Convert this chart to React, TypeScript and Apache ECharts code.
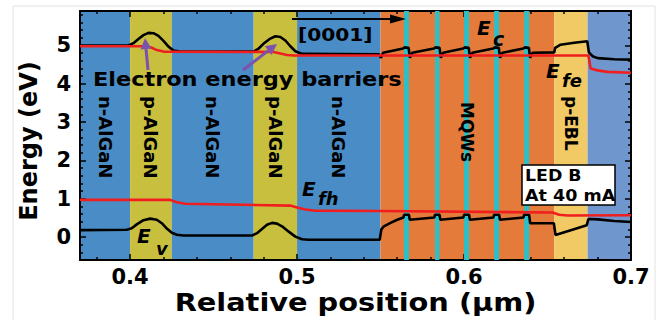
import React, { useEffect, useRef } from "react";
import * as echarts from "echarts";

// Axis ranges (position in µm, energy in eV)
const X_MIN = 0.37;
const X_MAX = 0.7;
const Y_MIN = -0.6;
const Y_MAX = 5.9;

const xMajorTicks = [0.4, 0.5, 0.6, 0.7];
const yMajorTicks = [0, 1, 2, 3, 4, 5];

// Epitaxial layers: boundaries, names and fills
const layerEdges = [0.37, 0.4, 0.425, 0.474, 0.5, 0.55, 0.654, 0.674, 0.7];
const layerNames = ["n-AlGaN", "p-AlGaN", "n-AlGaN", "p-AlGaN", "n-AlGaN", "MQWs", "p-EBL", ""];
const layerColors = ["#4a8cc5", "#c9bf3e", "#4a8cc5", "#c9bf3e", "#4a8cc5", "#e47b3b", "#f1c965", "#7097cd"];

// Quantum wells inside the MQW region
const wellStarts = [0.564, 0.5826, 0.6, 0.618, 0.636];
const wellEnds = [0.567, 0.5853, 0.603, 0.621, 0.639];

// Conduction band edge Ec
const conductionBand = [
  [0.37, 5.0], [0.399, 5.0], [0.402, 5.06], [0.405, 5.17], [0.408, 5.27], [0.411, 5.33], [0.414, 5.32],
  [0.417, 5.25], [0.42, 5.12], [0.423, 4.97], [0.426, 4.87], [0.43, 4.84],
  [0.474, 4.84], [0.477, 4.92], [0.48, 5.05], [0.484, 5.18], [0.487, 5.24], [0.49, 5.22], [0.493, 5.13],
  [0.496, 4.98], [0.499, 4.85], [0.503, 4.78],
  [0.549, 4.77], [0.5503, 4.68], [0.5515, 4.81], [0.5635, 4.92], [0.5645, 4.95], [0.5668, 4.94], [0.5676, 4.68], [0.569, 4.81],
  [0.582, 4.92], [0.583, 4.95], [0.5853, 4.94], [0.5861, 4.68], [0.5875, 4.81],
  [0.5995, 4.92], [0.6005, 4.95], [0.6028, 4.94], [0.6036, 4.68], [0.605, 4.81],
  [0.6175, 4.92], [0.6185, 4.95], [0.6208, 4.94], [0.6216, 4.68], [0.623, 4.81],
  [0.6355, 4.92], [0.6365, 4.95], [0.6388, 4.94], [0.6396, 4.68], [0.641, 4.81],
  [0.654, 4.82], [0.6546, 4.94], [0.6578, 5.02], [0.666, 5.07], [0.6738, 5.11], [0.6748, 4.82],
  [0.677, 4.72], [0.68, 4.67], [0.69, 4.64], [0.7, 4.63],
];

// Valence band edge Ev
const valenceBand = [
  [0.37, 0.18], [0.398, 0.19], [0.401, 0.23], [0.404, 0.33], [0.408, 0.44], [0.412, 0.48], [0.416, 0.45],
  [0.419, 0.36], [0.422, 0.22], [0.425, 0.11], [0.428, 0.06], [0.432, 0.04],
  [0.473, 0.04], [0.476, 0.1], [0.479, 0.21], [0.482, 0.32], [0.485, 0.37], [0.488, 0.35], [0.491, 0.28],
  [0.495, 0.14], [0.499, 0.01], [0.503, -0.06], [0.507, -0.07],
  [0.5495, -0.07], [0.5505, 0.2], [0.552, 0.28], [0.556, 0.37], [0.56, 0.45], [0.5637, 0.51], [0.5641, 0.58], [0.567, 0.58], [0.5675, 0.45],
  [0.5822, 0.51], [0.5826, 0.58], [0.5853, 0.58], [0.5858, 0.45],
  [0.5996, 0.51], [0.6, 0.58], [0.603, 0.58], [0.6035, 0.45],
  [0.6176, 0.51], [0.618, 0.58], [0.621, 0.58], [0.6215, 0.45],
  [0.6356, 0.51], [0.636, 0.58], [0.639, 0.58], [0.6396, 0.36],
  [0.6538, 0.36], [0.6548, 0.05], [0.6735, 0.31], [0.6745, 0.47], [0.68, 0.46], [0.69, 0.42], [0.7, 0.39],
];

// Electron quasi-Fermi level Efe
const electronFermi = [
  [0.37, 4.98], [0.41, 4.98], [0.413, 4.94], [0.416, 4.88], [0.42, 4.84], [0.486, 4.83], [0.49, 4.79],
  [0.494, 4.75], [0.498, 4.74], [0.6745, 4.74], [0.6758, 4.4], [0.68, 4.35], [0.686, 4.31], [0.7, 4.29],
];

// Hole quasi-Fermi level Efh
const holeFermi = [
  [0.37, 0.97], [0.424, 0.97], [0.428, 0.91], [0.433, 0.87], [0.496, 0.82], [0.5, 0.77], [0.505, 0.72],
  [0.51, 0.69], [0.55, 0.68], [0.653, 0.64], [0.657, 0.58], [0.662, 0.56], [0.7, 0.57],
];

const FONT = "DejaVu Sans";

function minorTicks(min: number, max: number, step: number, majors: number[]) {
  const out: number[] = [];
  const n = Math.round((max - min) / step);
  const start = Math.ceil(min / step - 1e-9);
  for (let i = start; i * step <= max + 1e-9; i++) {
    const v = +(i * step).toFixed(4);
    if (v < min - 1e-9) continue;
    if (majors.some((m) => Math.abs(m - v) < 1e-6)) continue;
    out.push(v);
  }
  void n;
  return out;
}

const xMinorTicks = minorTicks(X_MIN, X_MAX, 0.02, xMajorTicks);
const yMinorTicks = minorTicks(Y_MIN, Y_MAX, 0.2, yMajorTicks);

const tickLine = { color: "#000", width: 1.5 };
const frameLine = { show: true, onZero: false, lineStyle: { color: "#000", width: 2 } };
const labelFont = { fontFamily: FONT, fontWeight: "bold" as const, fontSize: 21, color: "#000" };

function xAxisDef(position: "top" | "bottom", major: boolean, withLabels: boolean) {
  return {
    type: "value",
    min: X_MIN,
    max: X_MAX,
    position,
    splitLine: { show: false },
    axisLine: major ? frameLine : { show: false, onZero: false },
    axisTick: {
      show: true,
      inside: true,
      length: major ? 6 : 3,
      lineStyle: tickLine,
      customValues: major ? xMajorTicks : xMinorTicks,
    },
    axisLabel: withLabels
      ? { show: true, customValues: xMajorTicks, formatter: (v: number) => v.toFixed(1), margin: 6, ...labelFont }
      : { show: false },
  };
}

function yAxisDef(position: "left" | "right", major: boolean, withLabels: boolean) {
  return {
    type: "value",
    min: Y_MIN,
    max: Y_MAX,
    position,
    splitLine: { show: false },
    axisLine: major ? frameLine : { show: false, onZero: false },
    axisTick: {
      show: true,
      inside: true,
      length: major ? 6 : 3,
      lineStyle: tickLine,
      customValues: major ? yMajorTicks : yMinorTicks,
    },
    axisLabel: withLabels
      ? { show: true, customValues: yMajorTicks, formatter: (v: number) => String(v), margin: 9, ...labelFont }
      : { show: false },
  };
}

const layerData = layerColors.map((c, i) => ({
  value: [layerEdges[i], layerEdges[i + 1]],
  itemStyle: { color: c },
}));
const wellData = wellStarts.map((s, i) => ({ value: [s, wellEnds[i]], itemStyle: { color: "#2bbfca" } }));

const bandRender = (_params: any, api: any) => {
  const a = api.coord([api.value(0), Y_MAX]);
  const b = api.coord([api.value(1), Y_MIN]);
  return {
    type: "rect",
    shape: { x: a[0], y: a[1], width: b[0] - a[0], height: b[1] - a[1] },
    style: { fill: api.visual("color") },
  };
};

const curve = (name: string, data: number[][], color: string, z: number) => ({
  name,
  type: "line",
  data,
  xAxisIndex: 0,
  yAxisIndex: 0,
  showSymbol: false,
  symbol: "none",
  z,
  lineStyle: { color, width: 2.6 },
  silent: true,
});

const option = {
  animation: false,
  backgroundColor: "#ffffff",
  grid: { left: 80, right: 30, top: 11, bottom: 60, containLabel: false },
  xAxis: [
    xAxisDef("bottom", true, true),
    xAxisDef("bottom", false, false),
    xAxisDef("top", true, false),
    xAxisDef("top", false, false),
  ],
  yAxis: [
    yAxisDef("left", true, true),
    yAxisDef("left", false, false),
    yAxisDef("right", true, false),
    yAxisDef("right", false, false),
  ],
  series: [
    {
      type: "custom",
      renderItem: bandRender,
      data: layerData,
      encode: { x: [0, 1] },
      xAxisIndex: 0,
      yAxisIndex: 0,
      z: 0,
      silent: true,
      clip: true,
    },
    {
      type: "custom",
      renderItem: bandRender,
      data: wellData,
      encode: { x: [0, 1] },
      xAxisIndex: 0,
      yAxisIndex: 0,
      z: 1,
      silent: true,
      clip: true,
    },
    curve("Ec", conductionBand, "#000000", 3),
    curve("Ev", valenceBand, "#000000", 3),
    curve("Efe", electronFermi, "#f01e1e", 4),
    curve("Efh", holeFermi, "#f01e1e", 4),
  ],
};

function arrow(x1: number, y1: number, x2: number, y2: number, color: string, width: number, headLen: number, headHalf: number) {
  const dx = x2 - x1;
  const dy = y2 - y1;
  const len = Math.hypot(dx, dy);
  const ux = dx / len;
  const uy = dy / len;
  const bx = x2 - ux * headLen;
  const by = y2 - uy * headLen;
  return [
    { type: "line", z: 100, shape: { x1, y1, x2: bx, y2: by }, style: { stroke: color, lineWidth: width } },
    {
      type: "polygon",
      z: 100,
      shape: {
        points: [
          [x2, y2],
          [bx - uy * headHalf, by + ux * headHalf],
          [bx + uy * headHalf, by - ux * headHalf],
        ],
      },
      style: { fill: color },
    },
  ];
}

function label(text: string, x: number, y: number, size: number, extra: any = {}, styleExtra: any = {}) {
  return {
    type: "text",
    z: 100,
    x,
    y,
    ...extra,
    style: {
      text,
      fontFamily: FONT,
      fontWeight: "bold",
      fontSize: size,
      fill: "#000",
      align: "left",
      verticalAlign: "middle",
      ...styleExtra,
    },
  };
}

export default function App() {
  const ref = useRef<HTMLDivElement>(null);

  useEffect(() => {
    document.body.style.margin = "0";
    const chart = echarts.init(ref.current!, null, { renderer: "svg" });
    chart.setOption(option as any);

    const px = (x: number, y: number) => chart.convertToPixel({ seriesIndex: 2 }, [x, y]) as number[];

    const graphics: any[] = [];

    // faint outer frame of the figure
    graphics.push({
      type: "rect",
      z: -1,
      shape: { x: 13, y: 6, width: 642, height: 330 },
      style: { fill: "none", stroke: "#e2e2e2", lineWidth: 1 },
    });

    // rotated layer names
    layerNames.forEach((name, i) => {
      if (!name) return;
      const mid = (layerEdges[i] + layerEdges[i + 1]) / 2;
      const p = px(mid, 0);
      const size = name === "MQWs" || name === "p-EBL" ? 17 : 18;
      const top = name === "MQWs" ? 102 : 96;
      graphics.push(label(name, p[0], top, size, { rotation: -Math.PI / 2 }));
    });

    // electron barrier note with arrows
    graphics.push(label("Electron energy barriers", 93, 80, 19, { scaleX: 1.18 }));
    graphics.push(...arrow(148, 70, 145, 38, "#7b52ad", 3, 11, 5.5));
    graphics.push(...arrow(243, 70, 277, 44, "#7b52ad", 3, 11, 5.5));

    // growth direction
    graphics.push(...arrow(292, 19, 406, 19, "#000", 2, 16, 4.5));
    graphics.push(label("[0001]", 298, 35, 18, { scaleX: 1.12 }));

    // band / level names
    const it = { fontStyle: "italic" };
    graphics.push(label("E", 477, 28, 20, {}, it));
    graphics.push(label("c", 493, 39, 19, {}, it));
    graphics.push(label("E", 546, 71, 20, {}, it));
    graphics.push(label("fe", 562, 80, 18, {}, it));
    graphics.push(label("E", 302, 189, 20, {}, it));
    graphics.push(label("fh", 318, 198, 18, {}, it));
    graphics.push(label("E", 137, 236, 20, {}, it));
    graphics.push(label("v", 156, 248, 18, {}, it));

    // operating condition box
    graphics.push({
      type: "rect",
      z: 100,
      shape: { x: 522, y: 165, width: 93, height: 40 },
      style: { fill: "#fff", stroke: "#000", lineWidth: 1.5 },
    });
    graphics.push(label("LED B", 525, 176, 15.5, { scaleX: 1.12 }));
    graphics.push(label("At 40 mA", 525, 196, 15.5, { scaleX: 1.13 }));

    // axis titles
    const plotMid = px((X_MIN + X_MAX) / 2, (Y_MIN + Y_MAX) / 2);
    graphics.push(label("Relative position (μm)", plotMid[0], 302, 24, { scaleX: 1.2 }, { align: "center" }));
    graphics.push(label("Energy (eV)", 29, 141, 24, { rotation: Math.PI / 2 }, { align: "center" }));

    chart.setOption({ graphic: graphics });

    return () => chart.dispose();
  }, []);

  return <div ref={ref} style={{ width: 661, height: 320 }} />;
}
